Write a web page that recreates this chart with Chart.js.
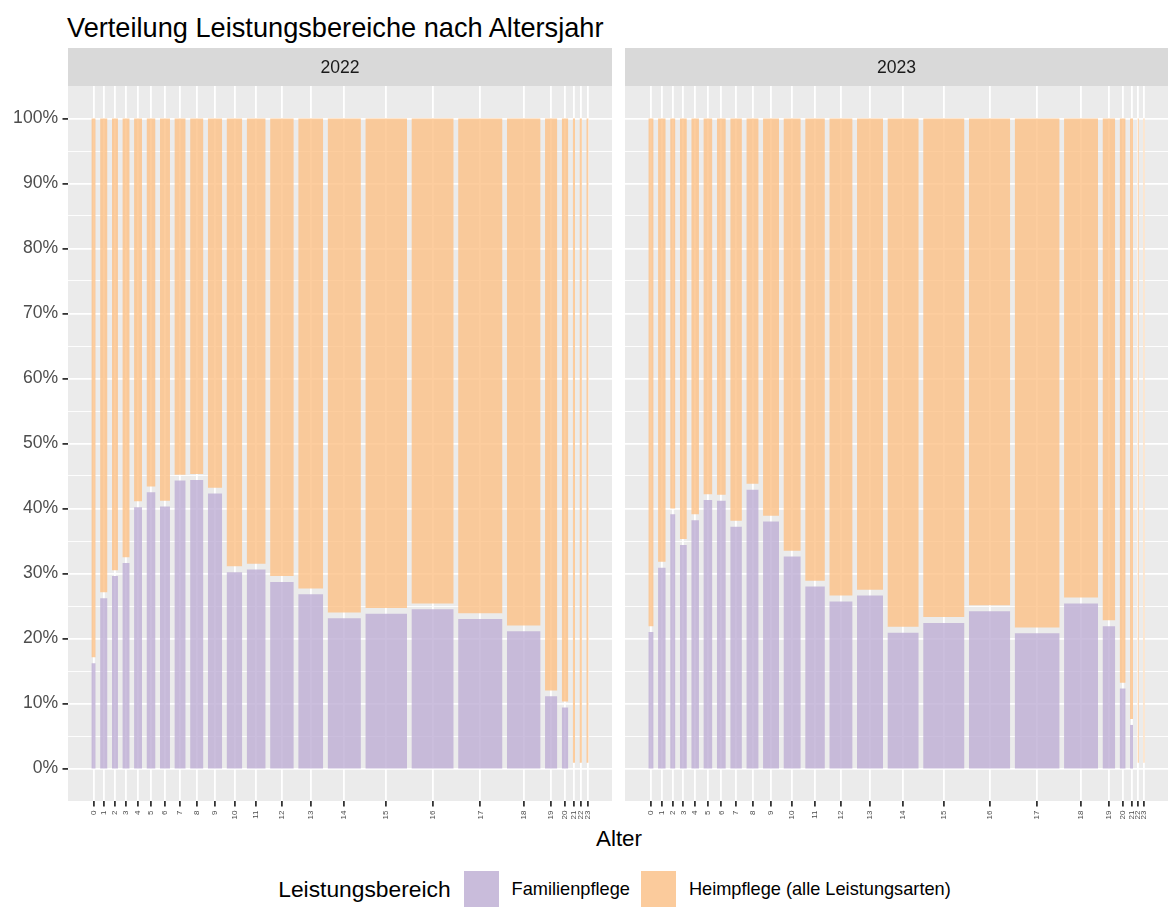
<!DOCTYPE html>
<html lang="de">
<head>
    <meta charset="UTF-8">
    <title>Verteilung Leistungsbereiche nach Altersjahr</title>
    <style>
        body {
            margin: 0;
            background: #ffffff;
            font-family: "Liberation Sans", Arial, sans-serif;
        }
        #page {
            position: relative;
            width: 1168px;
            height: 922px;
            overflow: hidden;
        }
        h1 {
            position: absolute;
            left: 67px;
            top: 14px;
            margin: 0;
            font-size: 27.2px;
            font-weight: normal;
            line-height: 1;
            color: #000000;
        }
        canvas {
            position: absolute;
            top: 48px;
        }
        #chart2022 { left: 0; }
        #chart2023 { left: 625px; }
        .axis-title {
            position: absolute;
            top: 828px;
            left: 0;
            width: 1238px;
            text-align: center;
            font-size: 22.4px;
            line-height: 1;
        }
        .legend {
            position: absolute;
            top: 871px;
            left: 0;
            width: 1240px;
            height: 36px;
            display: flex;
            justify-content: center;
            align-items: center;
            font-size: 18.2px;
        }
        .legend .title { font-size: 22.8px; margin-right: 13px; }
        .legend .key { width: 35px; height: 36px; background: #F2F2F2; position: relative; }
        .legend .key span { position: absolute; inset: 0; }
        .legend .label { margin-left: 13px; margin-right: 11px; }
    </style>
</head>
<body>
<div id="page">
    <h1>Verteilung Leistungsbereiche nach Altersjahr</h1>
    <canvas id="chart2022" width="612" height="778"></canvas>
    <canvas id="chart2023" width="543" height="778"></canvas>
    <div class="axis-title">Alter</div>
    <div class="legend" id="legend"></div>
</div>
<script src="https://cdn.jsdelivr.net/npm/chart.js"></script>
<script>
    // Altersjahre (x-Kategorien)
    const AGES = [0, 1, 2, 3, 4, 5, 6, 7, 8, 9, 10, 11, 12, 13, 14, 15, 16, 17, 18, 19, 20, 21, 22, 23];

    // Anteil des Altersjahrs an allen Fällen in % (Balkenbreite)
    const WIDTH_2022 = [1.09, 1.87, 1.52, 1.85, 2.02, 2.28, 2.53, 2.86, 3.36, 3.62, 3.97, 4.80,
                        5.99, 6.32, 8.42, 10.54, 10.69, 11.22, 8.52, 3.11, 1.67, 0.58, 0.61, 0.58];
    const WIDTH_2023 = [1.34, 1.95, 1.34, 1.77, 1.95, 2.28, 2.28, 2.96, 3.12, 4.05, 4.38, 4.99,
                        5.90, 6.59, 7.93, 10.47, 10.47, 11.40, 8.62, 3.22, 1.52, 0.76, 0.35, 0.35];

    // Anteil Familienpflege in % (Rest = Heimpflege)
    const FAMILIE_2022 = [16.2, 26.2, 29.6, 31.6, 40.2, 42.5, 40.3, 44.3, 44.4, 42.3, 30.2, 30.6,
                          28.7, 26.8, 23.1, 23.8, 24.5, 23.0, 21.1, 11.1, 9.4, 0, 0, 0];
    const FAMILIE_2023 = [21.0, 30.9, 39.1, 34.4, 38.2, 41.3, 41.2, 37.2, 42.9, 38.0, 32.6, 28.0,
                          25.7, 26.6, 20.9, 22.4, 24.2, 20.8, 25.4, 21.9, 12.3, 6.7, 0, 0];

    const SERIES = ['Familienpflege', 'Heimpflege (alle Leistungsarten)'];
    const Y_BREAKS = [0, 10, 20, 30, 40, 50, 60, 70, 80, 90, 100];
    const Y_MINOR = [5, 15, 25, 35, 45, 55, 65, 75, 85, 95];

    const COLORS = ['rgba(190, 174, 212, 0.8)', 'rgba(253, 192, 134, 0.8)'];
    const GAP_X = 1.12;   // Abstand zwischen den Balken (mosaic offset)
    const GAP_Y = 0.9;    // Abstand zwischen den Segmenten
    const X_EXPAND = 0.047;

    const panelBackground = {
        id: 'panelBackground',
        beforeDraw(chart) {
            const { ctx, chartArea: a } = chart;
            ctx.save();
            ctx.fillStyle = '#EBEBEB';
            ctx.fillRect(a.left, a.top, a.right - a.left, a.bottom - a.top);
            ctx.fillStyle = '#D9D9D9';
            ctx.fillRect(a.left, 0, a.right - a.left, a.top);
            ctx.restore();
        }
    };

    function layoutBars(widths) {
        let pos = 0;
        return widths.map(w => {
            const x0 = pos;
            pos += w + GAP_X;
            return { x0: x0, x1: x0 + w, mid: x0 + w / 2 };
        });
    }

    function rect(x0, x1, y0, y1, color) {
        return {
            data: [{ x: x0, y: y1 }, { x: x1, y: y1 }],
            fill: { value: y0 },
            backgroundColor: color,
            borderColor: 'rgba(0,0,0,0)',
            borderWidth: 0,
            pointRadius: 0
        };
    }

    function makePanel(id, year, widths, shares, showY) {
        const bars = layoutBars(widths);
        const total = bars[bars.length - 1].x1;
        const datasets = [];
        bars.forEach((b, i) => {
            datasets.push(rect(b.x0, b.x1, 0, shares[i], COLORS[0]));
            datasets.push(rect(b.x0, b.x1, shares[i] + GAP_Y, 100, COLORS[1]));
        });
        const yTicks = Y_BREAKS.concat(Y_MINOR).sort((a, b) => a - b);
        const isMajor = v => Y_BREAKS.includes(v);

        return new Chart(document.getElementById(id), {
            type: 'line',
            data: { datasets: datasets },
            options: {
                responsive: false,
                animation: false,
                events: [],
                layout: { padding: 0 },
                plugins: {
                    legend: { display: false },
                    tooltip: { enabled: false },
                    title: {
                        display: true,
                        text: String(year),
                        fullSize: false,
                        color: '#1A1A1A',
                        font: { family: '"Liberation Sans", Arial, sans-serif', size: 17.6, weight: 'normal', lineHeight: 1 },
                        padding: { top: 11.2, bottom: 9.2 }
                    }
                },
                scales: {
                    x: {
                        type: 'linear',
                        min: -X_EXPAND * total,
                        max: total * (1 + X_EXPAND),
                        afterBuildTicks: s => { s.ticks = bars.map(b => ({ value: b.mid })); },
                        afterFit: s => { s.height = 25; },
                        ticks: {
                            autoSkip: false,
                            minRotation: 90,
                            maxRotation: 90,
                            padding: 4,
                            color: '#4D4D4D',
                            font: { family: '"Liberation Sans", Arial, sans-serif', size: 8 },
                            callback: (v, i) => String(AGES[i])
                        },
                        grid: {
                            color: '#FFFFFF',
                            lineWidth: 1.8,
                            tickLength: 5.5,
                            tickColor: '#333333',
                            tickWidth: 1.8
                        },
                        border: { display: false }
                    },
                    y: {
                        type: 'linear',
                        min: -5,
                        max: 105,
                        afterBuildTicks: s => { s.ticks = yTicks.map(v => ({ value: v })); },
                        afterFit: s => { s.width = showY ? 68 : 0; },
                        ticks: {
                            display: showY,
                            padding: 4.4,
                            color: '#4D4D4D',
                            font: { family: '"Liberation Sans", Arial, sans-serif', size: 17.6 },
                            callback: v => isMajor(v) ? v + '%' : ''
                        },
                        grid: {
                            color: '#FFFFFF',
                            lineWidth: c => isMajor(c.tick.value) ? 1.8 : 0.9,
                            drawTicks: showY,
                            tickLength: 5.5,
                            tickColor: c => isMajor(c.tick.value) ? '#333333' : 'rgba(0,0,0,0)',
                            tickWidth: 1.8
                        },
                        border: { display: false }
                    }
                }
            },
            plugins: [panelBackground]
        });
    }

    makePanel('chart2022', 2022, WIDTH_2022, FAMILIE_2022, true);
    makePanel('chart2023', 2023, WIDTH_2023, FAMILIE_2023, false);

    // Legende
    const legend = document.getElementById('legend');
    legend.innerHTML = '<span class="title">Leistungsbereich</span>' +
        SERIES.map((s, i) =>
            `<span class="key"><span style="background:${COLORS[i]}"></span></span><span class="label">${s}</span>`
        ).join('');
</script>
</body>
</html>
